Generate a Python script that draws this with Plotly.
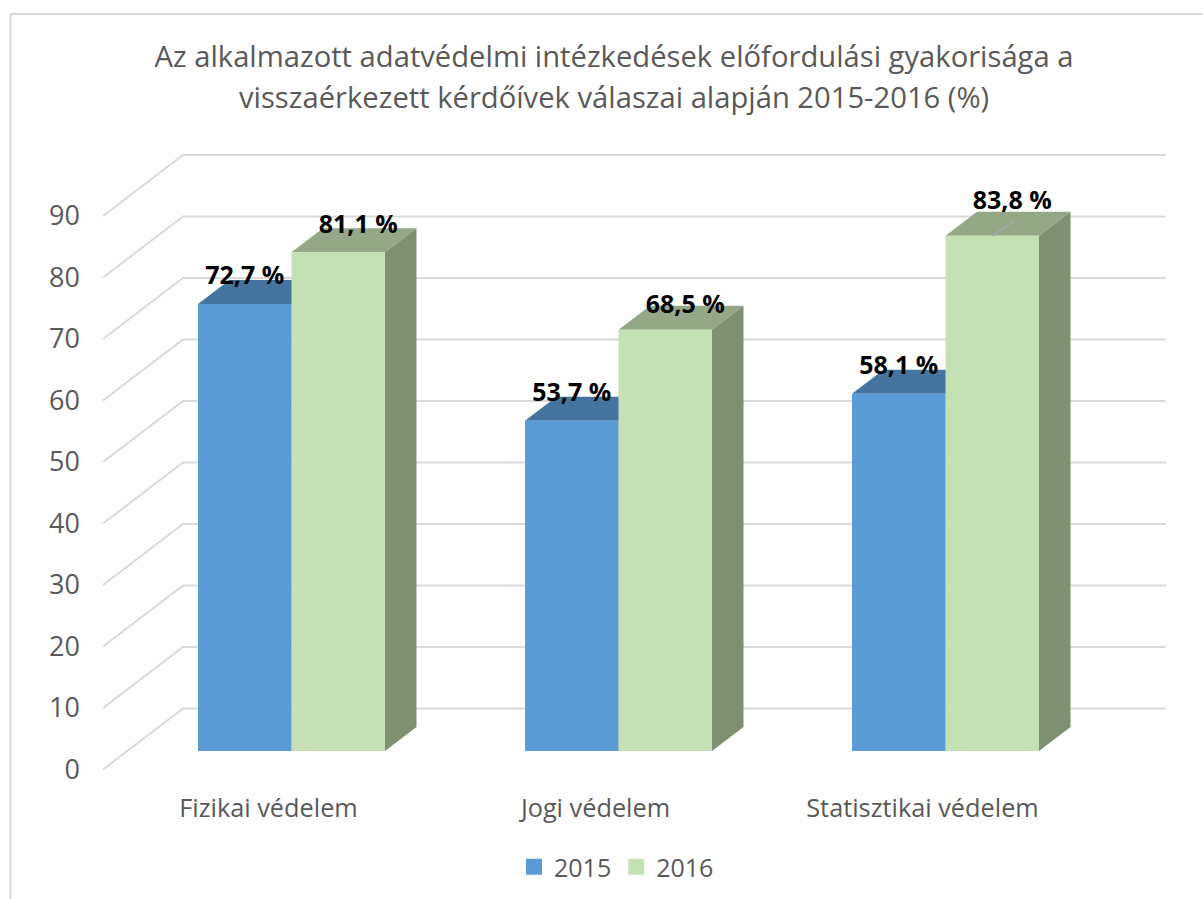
import plotly.graph_objects as go

W, H = 1203, 899
categories = ["Fizikai védelem", "Jogi védelem", "Statisztikai védelem"]
years = ["2015", "2016"]
values_2015 = [72.7, 53.7, 58.1]
values_2016 = [81.1, 68.5, 83.8]
labels_2015 = ["72,7 %", "53,7 %", "58,1 %"]
labels_2016 = ["81,1 %", "68,5 %", "83,8 %"]
label_lift_2015 = [4.2, 4.2, 4.2]
label_lift_2016 = [4.2, 3.8, 5.4]
y_ticks = [0, 10, 20, 30, 40, 50, 60, 70, 80, 90]

BLUE, GREEN = "#5B9BD5", "#C5E0B4"
BLUE_TOP, GREEN_TOP = "#44749F", "#94A787"
BLUE_SIDE, GREEN_SIDE = "#3E6A92", "#7F8F72"
GRID, TEXT, FRAME = "#D9D9D9", "#595959", "#D9D9D9"

# pixel scale of the drawing
PX_X, PX_Y = 327.0, 6.15
X0_PX, Y0_PX = 291.5, 751.0
xr = [-X0_PX / PX_X, (W - X0_PX) / PX_X]
yr = [-(H - Y0_PX) / PX_Y, Y0_PX / PX_Y]
BAR_W = 93.5 / PX_X
DX, DY = 31.5 / PX_X, 24 / PX_Y        # bar depth
WALL_LEFT, BACK_LEFT, WALL_RIGHT = (103 - X0_PX) / PX_X, (183 - X0_PX) / PX_X, (1166 - X0_PX) / PX_X
FRONT_OFF, BACK_OFF = -(769.5 - Y0_PX) / PX_Y, (Y0_PX - 708.5) / PX_Y

fig = go.Figure()

# walls: L-shaped gridlines
for v in y_ticks:
    fig.add_trace(go.Scatter(
        x=[WALL_LEFT, BACK_LEFT, WALL_RIGHT],
        y=[v + FRONT_OFF, v + BACK_OFF, v + BACK_OFF],
        mode="lines", line=dict(color=GRID, width=2), showlegend=False, hoverinfo="skip"))

def box_faces(xl, v, top_color, side_color):
    xr_ = xl + BAR_W
    fig.add_trace(go.Scatter(
        x=[xl, xr_, xr_ + DX, xl + DX, xl], y=[v, v, v + DY, v + DY, v],
        mode="lines", fill="toself", fillcolor=top_color, line=dict(width=0, color=top_color),
        showlegend=False, hoverinfo="skip"))
    fig.add_trace(go.Scatter(
        x=[xr_, xr_ + DX, xr_ + DX, xr_, xr_], y=[0, DY, v + DY, v, 0],
        mode="lines", fill="toself", fillcolor=side_color, line=dict(width=0, color=side_color),
        showlegend=False, hoverinfo="skip"))

for i in range(len(categories)):
    box_faces(i - BAR_W, values_2015[i], BLUE_TOP, BLUE_SIDE)
    box_faces(i, values_2016[i], GREEN_TOP, GREEN_SIDE)

# front faces, on an overlay above the walls
fig.add_trace(go.Bar(x=list(range(3)), y=values_2015, name=years[0], marker=dict(color=BLUE, line=dict(width=0)),
                     xaxis="x2", yaxis="y2", showlegend=False, offsetgroup="a"))
fig.add_trace(go.Bar(x=list(range(3)), y=values_2016, name=years[1], marker=dict(color=GREEN, line=dict(width=0)),
                     xaxis="x2", yaxis="y2", showlegend=False, offsetgroup="b"))

# leader line of the last label
fig.add_trace(go.Scatter(x=[2 + BAR_W / 2, 2 + BAR_W / 2 + 21 / PX_X],
                         y=[values_2016[2], values_2016[2] + 14 / PX_Y],
                         mode="lines", line=dict(color="#A6A6A6", width=2), xaxis="x2", yaxis="y2",
                         showlegend=False, hoverinfo="skip"))

# data labels
LBL_FONT = dict(family="Open Sans", size=25, color="#000000", weight="bold")
fig.add_trace(go.Scatter(
    x=[i - BAR_W / 2 for i in range(3)], y=[v + d for v, d in zip(values_2015, label_lift_2015)],
    text=labels_2015, mode="text", textfont=LBL_FONT, textposition="middle center",
    xaxis="x2", yaxis="y2", showlegend=False, hoverinfo="skip"))
fig.add_trace(go.Scatter(
    x=[i + BAR_W / 2 + 20 / PX_X for i in range(3)], y=[v + d for v, d in zip(values_2016, label_lift_2016)],
    text=labels_2016, mode="text", textfont=LBL_FONT, textposition="middle center",
    xaxis="x2", yaxis="y2", showlegend=False, hoverinfo="skip"))

# legend entries
for name, col in zip(years, [BLUE, GREEN]):
    fig.add_trace(go.Scatter(x=[None], y=[None], name=name, mode="markers",
                             marker=dict(symbol="square", size=16, color=col)))

FONT = "Open Sans"
fig.update_layout(
    width=W, height=H, autosize=False,
    margin=dict(l=0, r=0, t=0, b=0),
    paper_bgcolor="white", plot_bgcolor="rgba(0,0,0,0)",
    barmode="group", bargap=1 - 2 * BAR_W, bargroupgap=0,
    title=dict(text="Az alkalmazott adatvédelmi intézkedések előfordulási gyakorisága a",
               x=614 / W, xanchor="center", y=1 - 57 / H, yanchor="middle",
               font=dict(family=FONT, size=29.2, color=TEXT)),
    annotations=[dict(text="visszaérkezett kérdőívek válaszai alapján 2015-2016 (%)",
                      x=614 / W, y=1 - 97 / H, xref="paper", yref="paper", xanchor="center", yanchor="middle",
                      showarrow=False, font=dict(family=FONT, size=29.2, color=TEXT))],
    xaxis=dict(range=xr, domain=[0, 1], showgrid=False, zeroline=False, showline=False, ticks="",
               tickmode="array", tickvals=[i - 23 / PX_X for i in range(3)], ticktext=categories,
               tickfont=dict(family=FONT, size=25.3, color=TEXT),
               anchor="free", position=1 - 791 / H),
    yaxis=dict(range=yr, domain=[0, 1], showgrid=False, zeroline=False, showline=False, ticks="",
               tickmode="array", tickvals=[v + FRONT_OFF for v in y_ticks], ticktext=[str(v) for v in y_ticks],
               tickfont=dict(family=FONT, size=27, color=TEXT),
               anchor="free", position=80 / W),
    xaxis2=dict(range=xr, overlaying="x", visible=False, anchor="y2"),
    yaxis2=dict(range=yr, overlaying="y", visible=False, anchor="x2"),
    legend=dict(orientation="h", x=514 / W, xanchor="left", y=1 - 867 / H, yanchor="middle",
                font=dict(family=FONT, size=25, color=TEXT), bgcolor="rgba(0,0,0,0)",
                itemwidth=30, tracegroupgap=0),
    shapes=[
        dict(type="line", xref="paper", yref="paper", x0=10.5 / W, x1=10.5 / W, y0=0, y1=1 - 14 / H,
             line=dict(color=FRAME, width=2), layer="below"),
        dict(type="line", xref="paper", yref="paper", x0=10.5 / W, x1=1, y0=1 - 14 / H, y1=1 - 14 / H,
             line=dict(color=FRAME, width=2), layer="below"),
    ],
)
fig.write_html("out.html", config={"displayModeBar": False},
               post_script="document.body.style.margin='0';document.documentElement.style.overflow='hidden';")
